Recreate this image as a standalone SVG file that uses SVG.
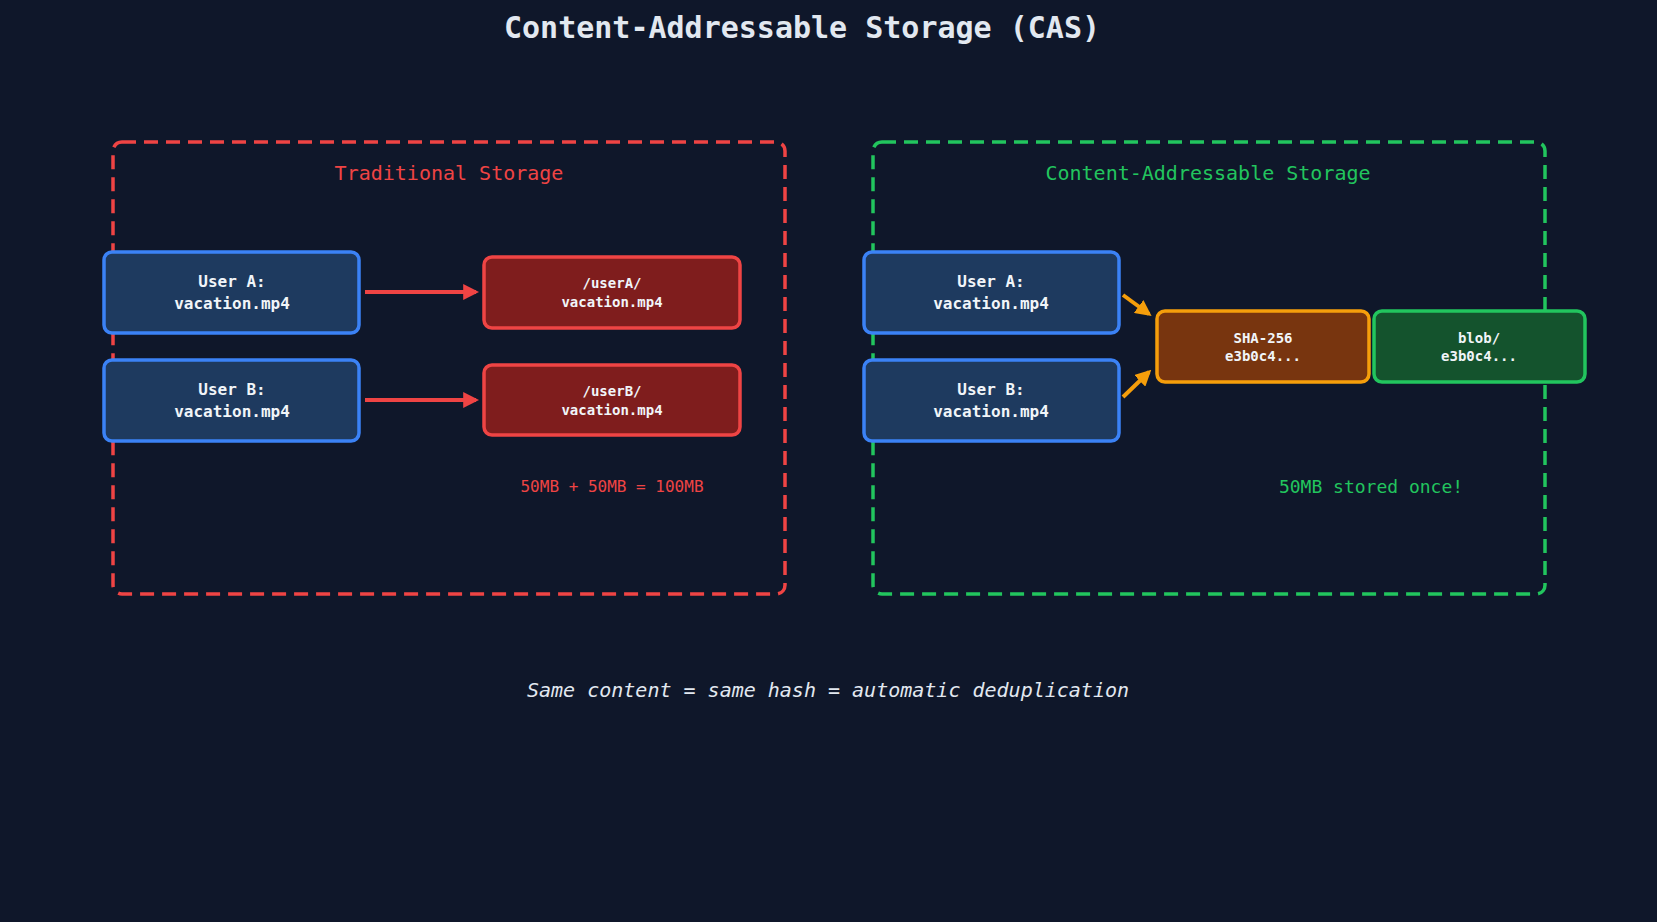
<svg xmlns="http://www.w3.org/2000/svg" width="1657" height="922" viewBox="0 0 1657 922">
<defs>
<style>
text{font-family:"DejaVu Sans Mono","Liberation Mono",monospace;text-anchor:middle}
.frame{fill:none;stroke-width:3.5;stroke-dasharray:14 8}
.user{fill:#1e3a5f;stroke:#3b82f6;stroke-width:3.5}
.lbl{fill:#f1f5f9;font-weight:bold;font-size:16px}
.sm{fill:#f1f5f9;font-weight:bold;font-size:14px}
</style>
<marker id="ar" viewBox="0 0 10 10" refX="8" refY="5" markerWidth="4" markerHeight="4" orient="auto"><path d="M0,0L10,5L0,10z" fill="#ef4444"/></marker>
<marker id="ao" viewBox="0 0 10 10" refX="8" refY="5" markerWidth="4" markerHeight="4" orient="auto"><path d="M0,0L10,5L0,10z" fill="#f59e0b"/></marker>
</defs>
<rect width="1657" height="922" fill="#0f172a"/>
<text x="802" y="38" font-size="30" font-weight="bold" fill="#e2e8f0">Content-Addressable Storage (CAS)</text>
<g id="traditional"><rect class="frame" x="113" y="142" width="672" height="452" rx="9" stroke="#ef4444"/>
<text x="449" y="180" font-size="20" fill="#ef4444">Traditional Storage</text></g>
<g id="cas"><rect class="frame" x="873" y="142" width="672" height="452" rx="9" stroke="#22c55e"/>
<text x="1208" y="180" font-size="20" fill="#22c55e">Content-Addressable Storage</text></g>
<g id="connectors" stroke-width="4" fill="none">
<path d="M365,292H476" stroke="#ef4444" marker-end="url(#ar)"/>
<path d="M365,400H476" stroke="#ef4444" marker-end="url(#ar)"/>
<path d="M1123,295L1149,314" stroke="#f59e0b" marker-end="url(#ao)"/>
<path d="M1123,397L1149,372" stroke="#f59e0b" marker-end="url(#ao)"/>
</g>
<g id="tA"><rect class="user" x="104" y="252" width="255" height="81" rx="8"/><text class="lbl" x="232" y="287">User A:</text><text class="lbl" x="232" y="309">vacation.mp4</text></g>
<g id="tB"><rect class="user" x="104" y="360" width="255" height="81" rx="8"/><text class="lbl" x="232" y="395">User B:</text><text class="lbl" x="232" y="417">vacation.mp4</text></g>
<g id="fA"><rect x="484" y="257" width="256" height="71" rx="8" fill="#7f1d1d" stroke="#ef4444" stroke-width="3.5"/><text class="sm" x="612" y="288">/userA/</text><text class="sm" x="612" y="307">vacation.mp4</text></g>
<g id="fB"><rect x="484" y="365" width="256" height="70" rx="8" fill="#7f1d1d" stroke="#ef4444" stroke-width="3.5"/><text class="sm" x="612" y="396">/userB/</text><text class="sm" x="612" y="415">vacation.mp4</text></g>
<text x="612" y="492" font-size="16" fill="#ef4444">50MB + 50MB = 100MB</text>
<g id="cA"><rect class="user" x="864" y="252" width="255" height="81" rx="8"/><text class="lbl" x="991" y="287">User A:</text><text class="lbl" x="991" y="309">vacation.mp4</text></g>
<g id="cB"><rect class="user" x="864" y="360" width="255" height="81" rx="8"/><text class="lbl" x="991" y="395">User B:</text><text class="lbl" x="991" y="417">vacation.mp4</text></g>
<g id="sha"><rect x="1157" y="311" width="212" height="71" rx="8" fill="#78350f" stroke="#f59e0b" stroke-width="3.5"/><text class="sm" x="1263" y="343">SHA-256</text><text class="sm" x="1263" y="361">e3b0c4...</text></g>
<g id="blob"><rect x="1374" y="311" width="211" height="71" rx="8" fill="#14532d" stroke="#22c55e" stroke-width="3.5"/><text class="sm" x="1479" y="343">blob/</text><text class="sm" x="1479" y="361">e3b0c4...</text></g>
<text x="1371" y="493" font-size="18" fill="#22c55e">50MB stored once!</text>
<text x="828" y="697" font-size="20" font-style="italic" fill="#e2e8f0">Same content = same hash = automatic deduplication</text>
</svg>
